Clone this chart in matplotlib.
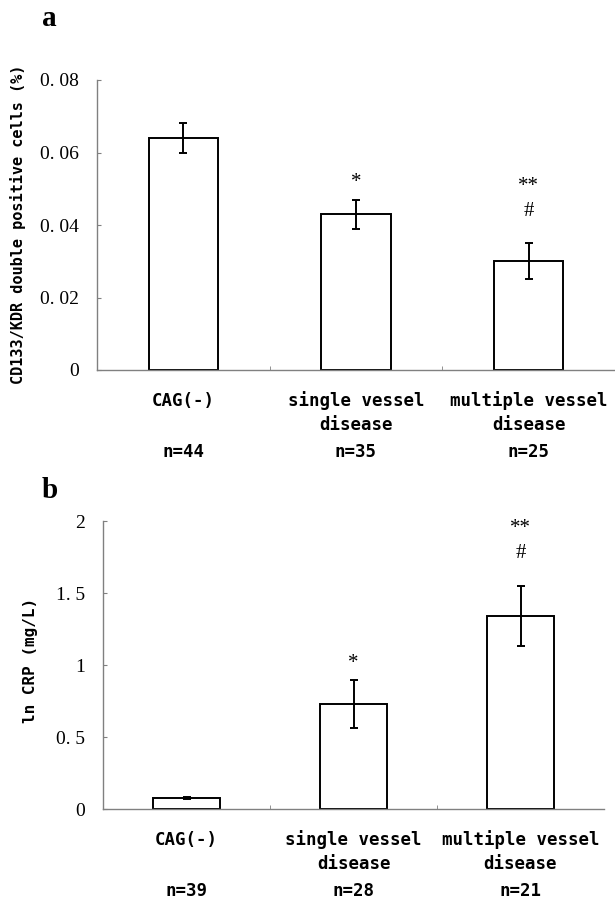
import matplotlib
matplotlib.use("Agg")
import matplotlib.pyplot as plt
import numpy as np

categories = ["CAG(-)", "single vessel\ndisease", "multiple vessel\ndisease"]

a_means = [0.064, 0.043, 0.030]
a_errs = [0.004, 0.004, 0.005]
a_n = ["n=44", "n=35", "n=25"]
a_ticks = [0, 0.02, 0.04, 0.06, 0.08]
a_ticklabels = ["0", "0. 02", "0. 04", "0. 06", "0. 08"]
a_ylabel = "CD133/KDR double positive cells (%)"

b_means = [0.076, 0.73, 1.34]
b_errs = [0.01, 0.165, 0.21]
b_n = ["n=39", "n=28", "n=21"]
b_ticks = [0, 0.5, 1, 1.5, 2]
b_ticklabels = ["0", "0. 5", "1", "1. 5", "2"]
b_ylabel = "ln CRP (mg/L)"

sig_marks = [None, ["*"], ["#", "**"]]

W, H = 615, 902
fig = plt.figure(figsize=(W / 100, H / 100), dpi=100)

SERIF = "Liberation Serif"
MONO = "DejaVu Sans Mono"
GRAY = "#808080"
PX = 0.72  # px -> points


def panel(rect, means, errs, nlabels, ticks, ticklabels, ylabel, letter, letter_xy,
          ylabel_xy, ylabel_size):
    ax = fig.add_axes(rect)
    x = np.arange(len(means))
    ax.bar(x, means, width=0.4, color="white", edgecolor="black", linewidth=1.4, zorder=2)
    ax.errorbar(x, means, yerr=errs, fmt="none", ecolor="black", elinewidth=1.4,
                capsize=3, capthick=1.4, zorder=3)
    ax.set_xlim(-0.5, len(means) - 0.5)
    ax.set_ylim(ticks[0], ticks[-1])
    for s in ["top", "right"]:
        ax.spines[s].set_visible(False)
    for s in ["left", "bottom"]:
        ax.spines[s].set_color(GRAY)
        ax.spines[s].set_linewidth(1.0)
    ax.set_yticks(ticks)
    ax.set_yticklabels(ticklabels, fontfamily=SERIF, fontsize=14)
    ax.tick_params(axis="y", direction="in", length=3, color=GRAY, pad=13)
    ax.set_xticks([])
    ax.set_xticks(np.arange(len(means) - 1) + 0.5, minor=True)
    ax.tick_params(axis="x", which="minor", direction="in", length=3, color=GRAY)
    # category labels
    for i, cat in enumerate(categories):
        lines = cat.split("\n")
        offs = [31, 55]
        for j, ln in enumerate(lines):
            ax.annotate(ln, xy=(i, 0), xycoords=("data", "axes fraction"),
                        xytext=(0, -offs[j] * PX), textcoords="offset points",
                        ha="center", va="center", fontfamily=MONO, fontsize=12.5,
                        fontweight="bold", annotation_clip=False)
        ax.annotate(nlabels[i], xy=(i, 0), xycoords=("data", "axes fraction"),
                    xytext=(0, -82 * PX), textcoords="offset points",
                    ha="center", va="center", fontfamily=MONO, fontsize=12.5,
                    fontweight="bold", annotation_clip=False)
    # significance marks
    for i, marks in enumerate(sig_marks):
        if not marks:
            continue
        top = means[i] + errs[i]
        offsets = [17] if len(marks) == 1 else [32, 57]
        for m, o in zip(marks, offsets):
            ax.annotate(m, xy=(i, top), xytext=(0, o * PX), textcoords="offset points",
                        ha="center", va="center", fontfamily=SERIF, fontsize=15,
                        annotation_clip=False)
    fig.text(ylabel_xy[0], ylabel_xy[1], ylabel, rotation=90, ha="center",
             va="center", fontfamily=MONO, fontsize=ylabel_size, fontweight="bold")
    fig.text(letter_xy[0], letter_xy[1], letter, fontfamily=SERIF, fontsize=21,
             fontweight="bold", ha="left", va="center")
    return ax


def rect_px(l, r, t, b):
    return [l / W, 1 - b / H, (r - l) / W, (b - t) / H]


panel(rect_px(97, 615, 80, 370), a_means, a_errs, a_n, a_ticks, a_ticklabels,
      a_ylabel, "a", (42 / W, 1 - 18 / H), (18 / W, 1 - 224 / H), 11)
panel(rect_px(103, 604, 521, 809), b_means, b_errs, b_n, b_ticks, b_ticklabels,
      b_ylabel, "b", (42 / W, 1 - 491 / H), (31 / W, 1 - 660 / H), 11.5)

fig.savefig("out.png", dpi=100)
